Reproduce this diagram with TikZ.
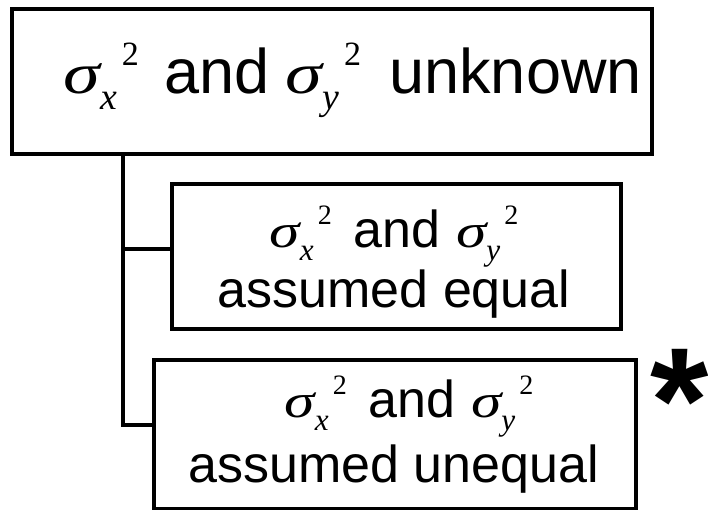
\documentclass[tikz,border=0pt]{standalone}
\usepackage{graphicx}
\usepackage{fontspec}
\setmainfont{Liberation Sans}
\newfontfamily\serif{Liberation Serif}
\newcommand\sg[1]{%
  \begingroup
  \edef\subsz{\the\dimexpr0.6em\relax}%
  \edef\supsz{\the\dimexpr0.54em\relax}%
  \scalebox{1.18}[0.92]{\serif\itshape σ}%
  \raisebox{-0.26em}{\fontsize{\subsz}{\subsz}\selectfont\serif\itshape #1}%
  \kern0.08em
  \raisebox{0.44em}{\fontsize{\supsz}{\supsz}\selectfont\serif 2}%
  \endgroup}
\tikzset{
  box/.style={draw=black, line width=4pt, fill=white, inner sep=0pt, rectangle},
  conn/.style={draw=black, line width=4pt},
  big/.style={font=\fontsize{63}{63}\selectfont, inner sep=0pt, anchor=base},
  mtxt/.style={font=\fontsize{52}{52}\selectfont, inner sep=0pt, anchor=base},
  starsty/.style={font=\fontsize{150}{150}\selectfont\bfseries, inner sep=0pt, anchor=base west}
}
\begin{document}
\begin{tikzpicture}[x=1pt, y=-1pt]
\useasboundingbox (0,0) rectangle (708,511);
% boxes
\node[box, minimum width=640pt, minimum height=144.5pt] (top) at (332,81.25) {};
\node[box, minimum width=449pt, minimum height=145pt] (mid) at (396,256) {};
\node[box, line width=3.5pt, minimum width=482pt, minimum height=148.5pt] (bot) at (395,434.25) {};
% connectors
\coordinate (j) at (123,0);
\draw[conn] (top.south -| j) |- ([yshift=9pt]bot.west);
\draw[conn] ([yshift=7pt]mid.west) -- ([yshift=7pt]mid.west -| j);
% texts
\node[big] (t1) at (352.5,93) {\sg{x}\hspace{0.4em}and\hspace{0.26em}\sg{y}\hspace{0.45em}unknown};
\node[mtxt] (m1) at (394,247) {\sg{x}\hspace{0.42em}and\hspace{0.3em}\sg{y}};
\node[mtxt] (m2) at (394,307) {assumed equal};
\node[mtxt] (b1) at (409,417) {\sg{x}\hspace{0.42em}and\hspace{0.3em}\sg{y}};
\node[mtxt] (b2) at (393.5,482) {assumed unequal};
% asterisk
\node[starsty] (star) at (650,452) {*};
\end{tikzpicture}
\end{document}
